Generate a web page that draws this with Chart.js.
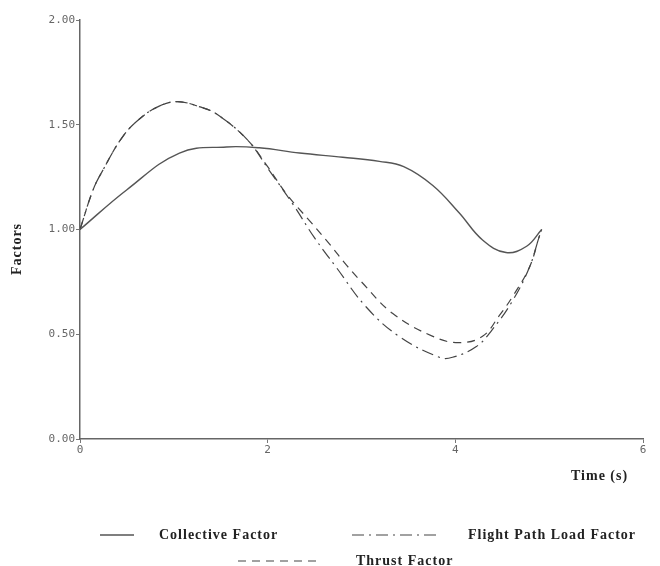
<!DOCTYPE html>
<html>
<head>
<meta charset="utf-8">
<script src="https://cdn.jsdelivr.net/npm/chart.js@4.4.1/dist/chart.umd.min.js"></script>
<style>
  html, body { margin: 0; padding: 0; background: #fff; }
  #wrap { width: 660px; height: 566px; position: relative; }
</style>
</head>
<body>
<div id="wrap"><canvas id="factorsChart"></canvas></div>
<script>
// === DATA ===
const seriesNames = ["Collective Factor", "Flight Path Load Factor", "Thrust Factor"];

const collectiveT = [0, 0.5, 1.06, 1.56, 1.91, 2.34, 2.8, 3.19, 3.45, 3.76, 4.04, 4.29, 4.54, 4.76, 4.92];
const collectiveV = [1.0, 1.19, 1.365, 1.394, 1.39, 1.365, 1.345, 1.325, 1.3, 1.21, 1.08, 0.95, 0.89, 0.92, 1.0];

const flightT = [0, 0.14, 0.24, 0.45, 0.64, 0.85, 1.04, 1.28, 1.46, 1.78, 2.02, 2.27, 2.5, 2.73, 3.05, 3.4, 3.83, 3.97, 4.22, 4.39, 4.61, 4.79, 4.89, 4.92];
const flightV = [1.0, 1.19, 1.28, 1.44, 1.53, 1.59, 1.61, 1.585, 1.55, 1.43, 1.28, 1.12, 0.96, 0.82, 0.63, 0.49, 0.39, 0.39, 0.44, 0.52, 0.66, 0.82, 0.96, 1.0];

const thrustT = [0, 0.14, 0.24, 0.45, 0.64, 0.85, 1.04, 1.28, 1.46, 1.78, 2.0, 2.2, 2.45, 2.66, 2.84, 3.0, 3.33, 3.76, 4.04, 4.29, 4.47, 4.61, 4.79, 4.89, 4.92];
const thrustV = [1.0, 1.19, 1.28, 1.44, 1.53, 1.59, 1.61, 1.585, 1.55, 1.43, 1.3, 1.17, 1.04, 0.93, 0.83, 0.75, 0.6, 0.49, 0.46, 0.49, 0.59, 0.68, 0.82, 0.96, 1.0];

const yTicks = [0, 0.5, 1.0, 1.5, 2.0];
const xTicks = [0, 2, 4, 6];

const toPoints = (ts, vs) => ts.map((t, i) => ({ x: t, y: vs[i] }));

// === LEGEND (drawn on canvas, two rows like the original plot) ===
const legendLayout = [
  { line: [100, 134], text: 159, y: 535 },
  { line: [352, 440], text: 468, y: 535 },
  { line: [238, 316], text: 356, y: 561 },
];

const customText = {
  id: "customText",
  afterDraw(chart) {
    const c = chart.ctx;
    c.save();
    c.fillStyle = "#222";
    c.font = "bold 14px 'Liberation Serif', 'DejaVu Serif', serif";
    c.letterSpacing = "1px";
    c.textBaseline = "middle";

    // axis titles
    c.textAlign = "left";
    c.fillText("Time (s)", 571, 476);
    c.save();
    c.translate(17, 249);
    c.rotate(-Math.PI / 2);
    c.textAlign = "center";
    c.fillText("Factors", 0, 0);
    c.restore();

    // legend
    chart.data.datasets.forEach((ds, i) => {
      const L = legendLayout[i];
      c.strokeStyle = ds.borderColor;
      c.lineWidth = ds.borderWidth;
      c.setLineDash(ds.borderDash || []);
      c.beginPath();
      c.moveTo(L.line[0], L.y);
      c.lineTo(L.line[1], L.y);
      c.stroke();
      c.setLineDash([]);
      c.textAlign = "left";
      c.fillText(ds.label, L.text, L.y);
    });
    c.restore();
  },
};

const ctx = document.getElementById("factorsChart").getContext("2d");

new Chart(ctx, {
  type: "line",
  data: {
    datasets: [
      {
        label: seriesNames[0],
        data: toPoints(collectiveT, collectiveV),
        borderColor: "#555",
        borderWidth: 1.4,
      },
      {
        label: seriesNames[1],
        data: toPoints(flightT, flightV),
        borderColor: "#444",
        borderWidth: 1.2,
        borderDash: [12, 5, 2, 5],
      },
      {
        label: seriesNames[2],
        data: toPoints(thrustT, thrustV),
        borderColor: "#444",
        borderWidth: 1.2,
        borderDash: [8, 6],
      },
    ],
  },
  options: {
    responsive: true,
    maintainAspectRatio: false,
    animation: false,
    elements: {
      point: { radius: 0 },
      line: { tension: 0.4, fill: false },
    },
    layout: { padding: { left: 0, top: 20, right: 17, bottom: 0 } },
    plugins: {
      legend: { display: false },
      tooltip: { enabled: false },
    },
    scales: {
      x: {
        type: "linear",
        min: 0,
        max: 6,
        afterFit: (s) => { s.height = 127; },
        afterBuildTicks: (s) => { s.ticks = xTicks.map((v) => ({ value: v })); },
        ticks: {
          color: "#666",
          padding: 1,
          font: { family: "'DejaVu Sans Mono', monospace", size: 11 },
          callback: (v) => String(v),
        },
        grid: { drawOnChartArea: false, drawTicks: true, tickLength: 4, color: "#777" },
        border: { color: "#666", width: 1.5 },
      },
      y: {
        min: 0,
        max: 2,
        afterFit: (s) => { s.width = 80; },
        afterBuildTicks: (s) => { s.ticks = yTicks.map((v) => ({ value: v })); },
        ticks: {
          color: "#666",
          padding: 1,
          font: { family: "'DejaVu Sans Mono', monospace", size: 11 },
          callback: (v) => Number(v).toFixed(2),
        },
        grid: { drawOnChartArea: false, drawTicks: true, tickLength: 4, color: "#777" },
        border: { color: "#666", width: 1.5 },
      },
    },
  },
  plugins: [customText],
});
</script>
</body>
</html>
